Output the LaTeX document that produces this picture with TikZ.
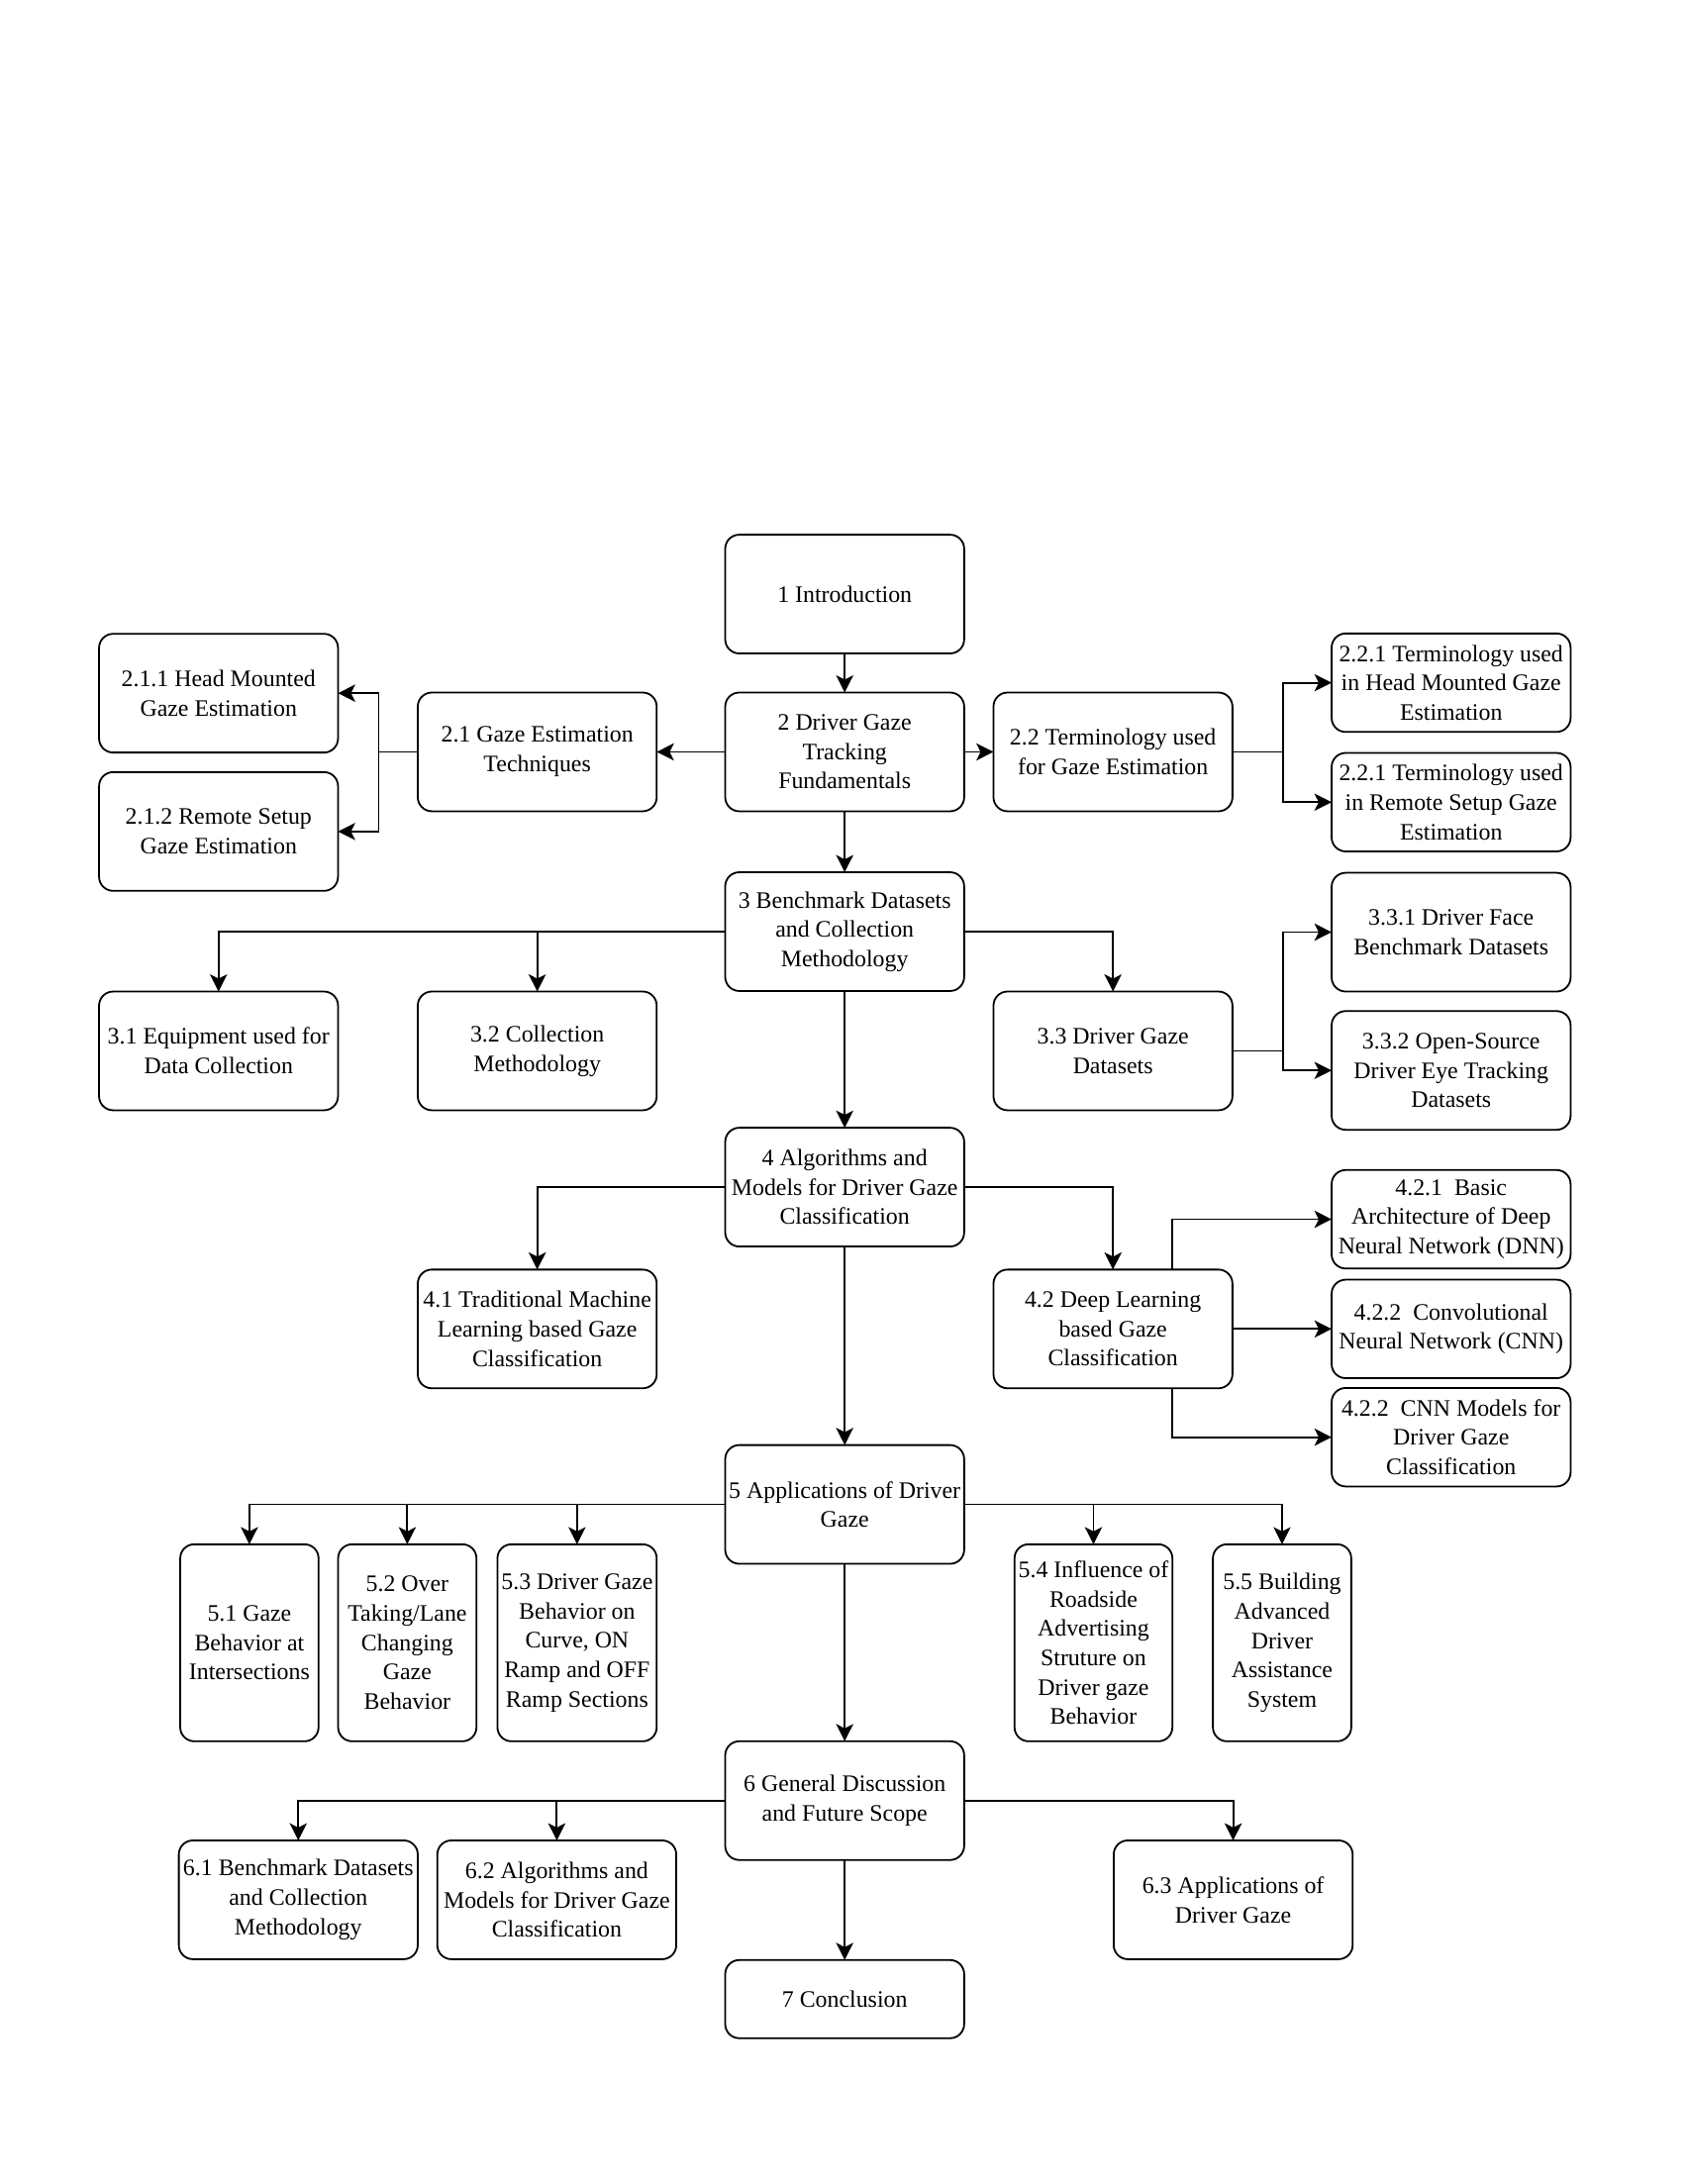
\documentclass[tikz,border=0pt]{standalone}
\usepackage{fontspec}
\setmainfont{Liberation Serif}
\usetikzlibrary{positioning,arrows.meta}

\begin{document}
\begin{tikzpicture}[
    every node/.style={align=center,font=\fontsize{8.6}{10.7}\selectfont},
    sec/.style={draw,line width=.65pt,rounded corners=.18cm,inner sep=1pt,outer sep=0pt,minimum width=3.057cm,minimum height=1.519cm},
    subsec/.style={sec,minimum height=1.26cm},
    tallsec/.style={sec,minimum width=1.77cm,minimum height=2.52cm},
    arr/.style={line width=.65pt,-{Stealth[length=2.2mm,width=2.2mm,inset=.55mm]}}]
        \useasboundingbox (0,0) rectangle (21.59,-27.94);
        % main column
        \node[sec] (intro) at (10.806,-7.6) {1 Introduction};
        \node[sec,below=.5cm of intro] (drv) {2 Driver Gaze\\Tracking\\Fundamentals};
        \node[sec,below=.78cm of drv] (bench) {3 Benchmark Datasets\\and Collection\\Methodology};
        \node[sec,below=1.75cm of bench] (algo) {4 Algorithms and\\Models for Driver Gaze\\Classification};
        \node[sec,below=2.54cm of algo] (app) {5 Applications of Driver\\Gaze};
        \node[sec,below=2.27cm of app] (disc) {6 General Discussion\\and Future Scope};
        \node[sec,below=1.28cm of disc,minimum height=1cm] (concl) {7 Conclusion};
        % section 2
        \node[sec,left=.876cm of drv] (gzt) {2.1 Gaze Estimation\\Techniques};
        \node[sec,left=1.02cm of gzt,yshift=.751cm] (hm) {2.1.1 Head Mounted\\Gaze Estimation};
        \node[sec,below=.25cm of hm] (rs) {2.1.2 Remote Setup\\Gaze Estimation};
        \node[sec,right=.375cm of drv] (term) {2.2 Terminology used\\for Gaze Estimation};
        \node[subsec,right=1.269cm of term,yshift=.885cm] (thm) {2.2.1 Terminology used\\in Head Mounted Gaze\\Estimation};
        \node[subsec,below=.268cm of thm] (trs) {2.2.1 Terminology used\\in Remote Setup Gaze\\Estimation};
        % section 3
        \node[sec,below=2.306cm of gzt] (coll) {3.2 Collection\\Methodology};
        \node[sec,left=1.02cm of coll] (equip) {3.1 Equipment used for\\Data Collection};
        \node[sec,below=2.306cm of term] (dset) {3.3 Driver Gaze\\Datasets};
        \node[sec,right=1.269cm of dset,yshift=1.519cm] (face) {3.3.1 Driver Face\\Benchmark Datasets};
        \node[sec,below=.25cm of face] (eye) {3.3.2 Open-Source\\Driver Eye Tracking\\Datasets};
        % section 4
        \node[sec,below=2.038cm of coll] (trad) {4.1 Traditional Machine\\Learning based Gaze\\Classification};
        \node[sec,below=2.038cm of dset] (deep) {4.2 Deep Learning\\based Gaze\\Classification};
        \node[subsec,right=1.269cm of deep] (cnn) {4.2.2~ Convolutional\\Neural Network (CNN)};
        \node[subsec,above=.143cm of cnn] (dnn) {4.2.1~ Basic\\Architecture of Deep\\Neural Network (DNN)};
        \node[subsec,below=.125cm of cnn] (cnnm) {4.2.2~ CNN Models for\\Driver Gaze\\Classification};
        % section 5
        \node[tallsec,minimum width=2.038cm,left=.876cm of app,yshift=-1.77cm] (a3) {5.3 Driver Gaze\\Behavior on\\Curve, ON\\Ramp and OFF\\Ramp Sections};
        \node[tallsec,left=.268cm of a3] (a2) {5.2 Over\\Taking/Lane\\Changing\\Gaze\\Behavior};
        \node[tallsec,left=.25cm of a2] (a1) {5.1 Gaze\\Behavior at\\Intersections};
        \node[tallsec,minimum width=2.02cm,right=.644cm of app,yshift=-1.77cm] (a4) {5.4 Influence of\\Roadside\\Advertising\\Struture on\\Driver gaze\\Behavior};
        \node[tallsec,right=.518cm of a4] (a5) {5.5 Building\\Advanced\\Driver\\Assistance\\System};
        % section 6
        \node[sec,left=.626cm of disc,yshift=-1.269cm] (d2) {6.2 Algorithms and\\Models for Driver Gaze\\Classification};
        \node[sec,left=.25cm of d2] (d1) {6.1 Benchmark Datasets\\and Collection\\Methodology};
        \node[sec,right=1.913cm of disc,yshift=-1.269cm] (d3) {6.3 Applications of\\Driver Gaze};
        % connectors
        \draw[arr] (intro) -- (drv);
        \draw[arr] (drv) -- (gzt);
        \draw[arr] (gzt.west) -- ++(-.5cm,0) |- (hm);
        \draw[arr] (gzt.west) -- ++(-.5cm,0) |- (rs);
        \draw[arr] (drv) -- (term);
        \draw[arr] (term.east) -- ++(.644cm,0) |- (thm);
        \draw[arr] (term.east) -- ++(.644cm,0) |- (trs);
        \draw[arr] (drv) -- (bench);
        \draw[arr] (bench.west) -| (equip);
        \draw[arr] (bench.west) -| (coll);
        \draw[arr] (bench.east) -| (dset);
        \draw[arr] (dset.east) -- ++(.644cm,0) |- (face);
        \draw[arr] (dset.east) -- ++(.644cm,0) |- (eye);
        \draw[arr] (bench) -- (algo);
        \draw[arr] (algo.west) -| (trad);
        \draw[arr] (algo.east) -| (deep);
        \draw[arr] ([xshift=.76cm]deep.north) |- (dnn);
        \draw[arr] (deep) -- (cnn);
        \draw[arr] ([xshift=.76cm]deep.south) |- (cnnm);
        \draw[arr] (algo) -- (app);
        \draw[arr] (app.west) -| (a1);
        \draw[arr] (app.west) -| (a2);
        \draw[arr] (app.west) -| (a3);
        \draw[arr] (app.east) -| (a4);
        \draw[arr] (app.east) -| (a5);
        \draw[arr] (app) -- (disc);
        \draw[arr] (disc.west) -| (d1);
        \draw[arr] (disc.west) -| (d2);
        \draw[arr] (disc.east) -| (d3);
        \draw[arr] (disc) -- (concl);
      \end{tikzpicture}
\end{document}
